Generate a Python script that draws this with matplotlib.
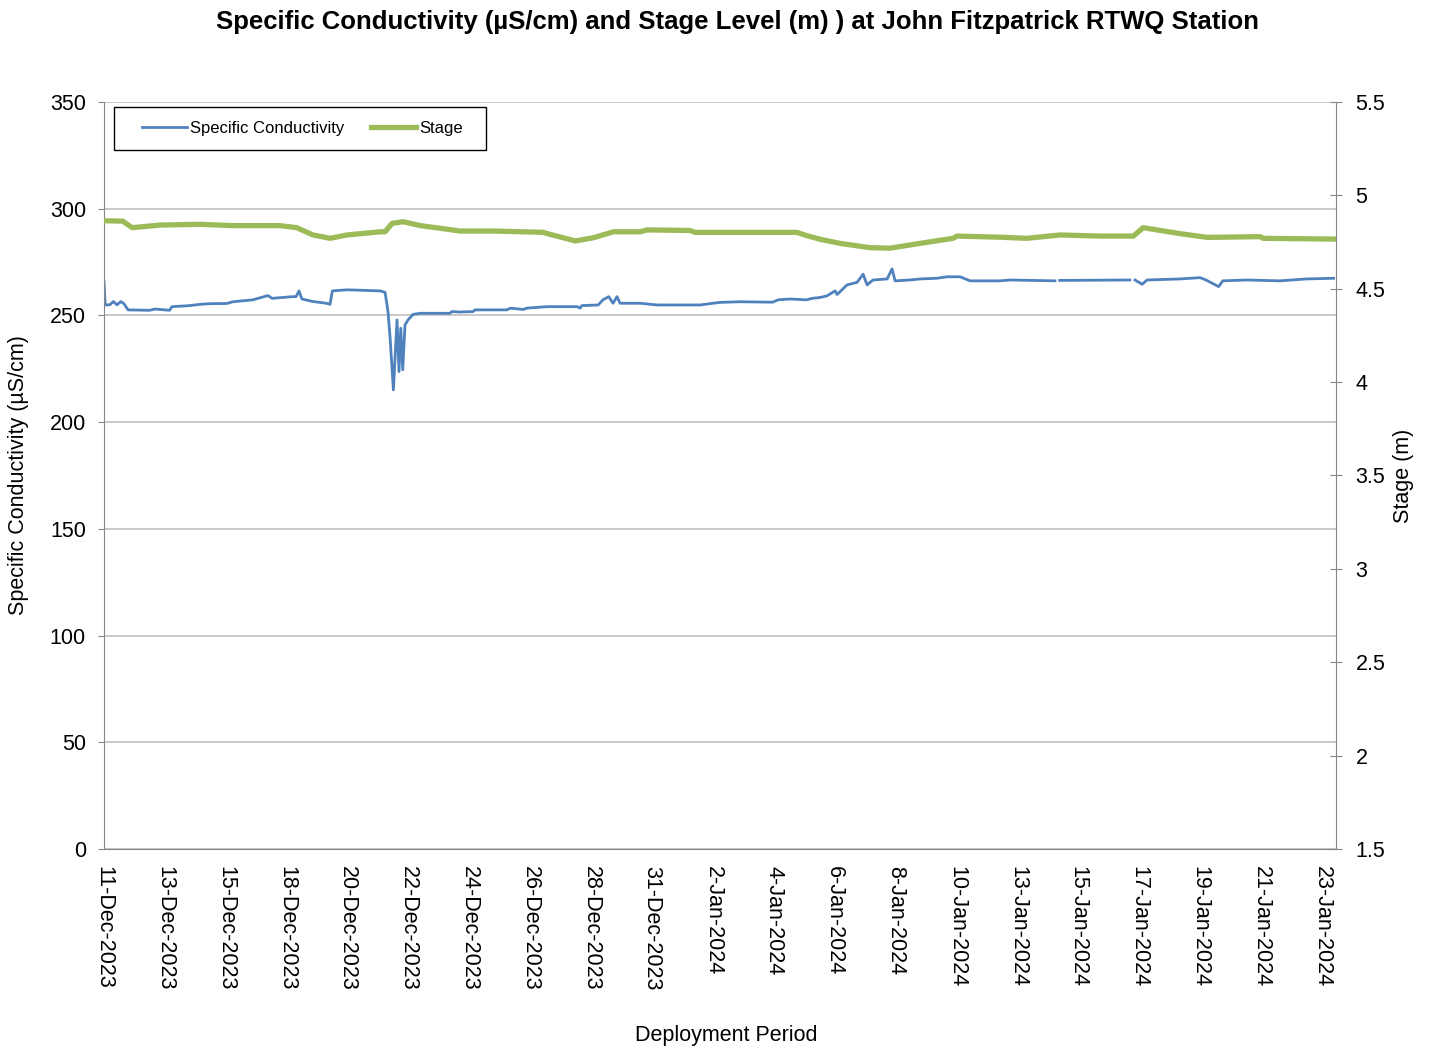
import numpy as np
import matplotlib
matplotlib.use('Agg')
import matplotlib.pyplot as plt
from matplotlib.patches import Rectangle
from matplotlib.ticker import FormatStrFormatter

plt.rcParams['font.family'] = ['Liberation Sans', 'DejaVu Sans']

# hours since start of deployment (x is a sample index, like an Excel category axis)
sc_hours = [0, 1, 5, 8, 11, 14.5, 17, 20.5, 39, 43.6, 56, 58, 73, 82, 90.5, 105, 110,
            127, 140, 143.5, 150, 161, 164, 166.5, 169, 178.5, 190, 193, 195, 207.5,
            235.7, 240, 242.5, 244.3, 247.1, 250.2, 251.9, 253.4, 255.1, 257, 259.6,
            263.9, 270, 295.5, 297, 304, 315, 317, 344, 347, 358, 361, 378, 404, 406.5,
            408, 422, 426, 431, 434.7, 438, 440.7, 458, 472, 509, 520, 526, 543, 571,
            575.6, 586, 600, 604.6, 611.4, 617.4, 624.3, 626, 634.5, 643, 648.2, 651.6,
            656.7, 668.7, 672.9, 675.5, 688, 697, 711, 720, 731, 739.5, 765, 774, 812,
            813, 816, 876, 877, 880.4, 886.4, 890.7, 919, 936, 941, 951.8, 955.3, 976,
            1004, 1027, 1050]
sc_values = [265.8, 254.9, 255.0, 256.5, 255.0, 256.5, 255.5, 252.6, 252.4, 253.0, 252.4,
             254.1, 254.6, 255.2, 255.5, 255.6, 256.4, 257.3, 259.3, 258.0, 258.3, 258.8,
             258.8, 261.5, 257.7, 256.5, 255.7, 255.2, 261.5, 262.0, 261.5, 260.8, 251.8,
             239.5, 215.1, 247.9, 223.7, 244.0, 224.5, 245.5, 247.9, 250.5, 251.0, 251.0,
             251.8, 251.6, 251.8, 252.6, 252.6, 253.4, 252.8, 253.4, 254.1, 254.1, 253.4,
             254.6, 254.9, 257.3, 258.8, 255.7, 258.8, 255.7, 255.7, 254.9, 254.9, 255.7,
             256.1, 256.4, 256.2, 257.3, 257.7, 257.3, 258.0, 258.4, 259.2, 261.5, 259.8,
             264.3, 265.5, 269.3, 264.3, 266.6, 267.1, 271.8, 266.2, 266.6, 267.1, 267.4,
             268.1, 268.1, 266.2, 266.2, 266.6, 266.2, np.nan, 266.4, 266.6, np.nan,
             266.6, 264.6, 266.6, 267.1, 267.7, 266.6, 263.5, 266.2, 266.6, 266.2, 267.1,
             267.4]

stage_hours = [0, 16, 24, 48, 82, 110, 150, 164.5, 178.5, 193, 207.5, 235.7, 240, 246,
               255.5, 270, 287, 304, 332, 375, 381, 402.5, 417.8, 435, 458, 463.7, 500.4,
               504.7, 591.7, 600.3, 611.4, 628.5, 654, 671, 696.8, 725, 728.4, 765, 788,
               816.4, 850.6, 879, 887.3, 899.2, 918.9, 942, 987.2, 989.8, 1050]
stage_values = [4.864, 4.862, 4.827, 4.841, 4.845, 4.838, 4.838, 4.827, 4.788, 4.770,
                4.788, 4.805, 4.805, 4.850, 4.859, 4.838, 4.824, 4.809, 4.809, 4.802,
                4.791, 4.756, 4.773, 4.805, 4.805, 4.815, 4.812, 4.802, 4.802, 4.784,
                4.765, 4.743, 4.720, 4.717, 4.743, 4.770, 4.782, 4.776, 4.770, 4.788,
                4.782, 4.782, 4.827, 4.815, 4.795, 4.775, 4.779, 4.770, 4.766]

tick_labels = ['11-Dec-2023', '13-Dec-2023', '15-Dec-2023', '18-Dec-2023', '20-Dec-2023',
               '22-Dec-2023', '24-Dec-2023', '26-Dec-2023', '28-Dec-2023', '31-Dec-2023',
               '2-Jan-2024', '4-Jan-2024', '6-Jan-2024', '8-Jan-2024', '10-Jan-2024',
               '13-Jan-2024', '15-Jan-2024', '17-Jan-2024', '19-Jan-2024', '21-Jan-2024',
               '23-Jan-2024']
label_step = 52  # hours between labelled categories

axis_grey = '#868686'

fig = plt.figure(figsize=(14.32, 10.49), dpi=100)
ax = fig.add_axes([0.07263, 0.19066, 0.86034, 0.71211])
ax2 = ax.twinx()

l1, = ax.plot(sc_hours, sc_values, color='#4F81BD', lw=2.0, label='Specific Conductivity')
l2, = ax2.plot(stage_hours, stage_values, color='#9BBB59', lw=3.8, label='Stage')

ax.set_xlim(0, 1052)
ax.set_ylim(0, 350)
ax.set_yticks(np.arange(0, 351, 50))
ax2.set_ylim(1.5, 5.5)
ax2.set_yticks(np.arange(1.5, 5.51, 0.5))
ax2.yaxis.set_major_formatter(FormatStrFormatter('%g'))

ax.set_xticks([i * label_step for i in range(len(tick_labels))])
ax.set_xticklabels(tick_labels, rotation=270)

ax.grid(axis='y', color='#c0c0c0', lw=1.2)
ax.set_axisbelow(True)

for a in (ax, ax2):
    a.spines['top'].set_visible(False)
ax.spines['right'].set_visible(False)
ax.spines['left'].set_color(axis_grey)
ax.spines['bottom'].set_color(axis_grey)
ax2.spines['left'].set_visible(False)
ax2.spines['bottom'].set_visible(False)
ax2.spines['right'].set_color(axis_grey)

ax.tick_params(axis='y', direction='out', length=4, color=axis_grey, labelsize=15.5, pad=9)
ax.tick_params(axis='x', length=0, labelsize=15.5, pad=12)
ax2.tick_params(axis='y', direction='inout', length=8, color=axis_grey, labelsize=15.5, pad=10)

ax.set_ylabel('Specific Conductivity (µS/cm)', fontsize=15.5)
ax.yaxis.set_label_coords(-0.061, 0.5)
ax2.set_ylabel('Stage (m)', fontsize=15.5)
ax2.yaxis.set_label_coords(1.046, 0.5)
ax.set_xlabel('Deployment Period', fontsize=15.5)
ax.xaxis.set_label_coords(0.505, -0.2356)

fig.text(737 / 1432, 1 - 22 / 1049,
         'Specific Conductivity (µS/cm) and Stage Level (m) ) at John Fitzpatrick RTWQ Station',
         ha='center', va='center', fontsize=18.5, fontweight='bold')

# legend box drawn separately so the entries can sit inset like Excel's
ax2.add_patch(Rectangle((10 / 1232, (849 - 150) / 747), 372 / 1232, 43 / 747,
                        transform=ax2.transAxes, facecolor='white', edgecolor='black',
                        lw=1.0, zorder=4))
leg = ax2.legend(handles=[l1, l2], loc='center left', ncol=2,
                 bbox_to_anchor=(38 / 1232, (849 - 128.5) / 747), borderaxespad=0,
                 fontsize=12, handlelength=2.7, handletextpad=0.2, borderpad=0,
                 columnspacing=1.6, frameon=False)
leg.set_zorder(5)

fig.savefig('out.png', dpi=100)
